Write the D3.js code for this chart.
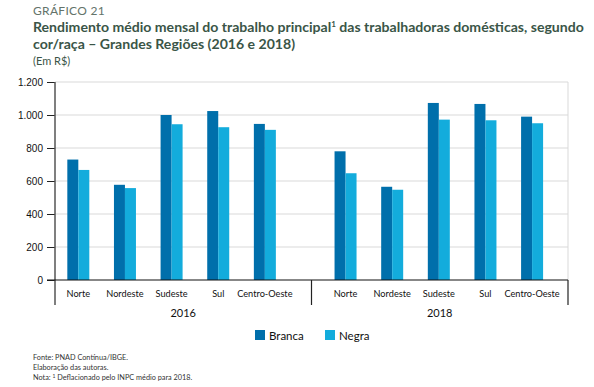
<!DOCTYPE html>
<html>
<head>
<meta charset="utf-8">
<script src="https://cdn.jsdelivr.net/npm/d3@7"></script>
<style>
  body { margin: 0; background: #fff; }
  svg { display: block; font-family: Lato, 'Open Sans', sans-serif; }
</style>
</head>
<body>
<svg></svg>
<script>
const years = ['2016', '2018']
const regions = ['Norte', 'Nordeste', 'Sudeste', 'Sul', 'Centro-Oeste']
const series = ['Branca', 'Negra']
const branca = {
  '2016': [730, 577, 1000, 1024, 946],
  '2018': [780, 565, 1073, 1067, 990]
}
const negra = {
  '2016': [667, 557, 944, 926, 910],
  '2018': [647, 547, 972, 968, 950]
}
const yTicks = [0, 200, 400, 600, 800, 1000, 1200]

const width = 594
const height = 387
const pd = { top: 82, left: 55, right: 26, bottom: 107 }
const colors = { Branca: '#006fab', Negra: '#13acdc' }
const align = { '2016': 0, '2018': 0.46 }

const svg = d3.select('svg')
  .attr('width', width)
  .attr('height', height)

const fmt = d3.formatLocale({ decimal: ',', thousands: '.', grouping: [3], currency: ['R$', ''] }).format(',d')

const x0 = d3.scaleBand()
  .domain(years)
  .range([pd.left, width - pd.right])

const x1 = {}
years.forEach(yr => {
  x1[yr] = d3.scaleBand()
    .domain(regions)
    .range([x0(yr), x0(yr) + x0.bandwidth()])
    .paddingOuter(0.25)
    .align(align[yr])
})

const x2 = d3.scaleBand()
  .domain(series)
  .range([0, x1['2016'].bandwidth()])
  .paddingOuter(1.12)

const y = d3.scaleLinear()
  .domain([0, 1200])
  .range([height - pd.bottom, pd.top])

const plotR = width - pd.right
const y0 = y(0)

// grid
svg.append('g')
  .selectAll('line')
  .data(yTicks.filter(d => d > 0))
  .enter()
  .append('line')
  .attr('x1', pd.left)
  .attr('x2', plotR)
  .attr('y1', d => y(d))
  .attr('y2', d => y(d))
  .attr('stroke', '#d9d9d9')
  .attr('stroke-width', 1)

svg.append('line')
  .attr('x1', plotR).attr('x2', plotR)
  .attr('y1', y(1200)).attr('y2', y0)
  .attr('stroke', '#d9d9d9')

// bars
const rows = []
years.forEach(yr => {
  regions.forEach((r, i) => {
    rows.push({ yr, r, s: 'Branca', v: branca[yr][i] })
    rows.push({ yr, r, s: 'Negra', v: negra[yr][i] })
  })
})

svg.append('g')
  .selectAll('rect')
  .data(rows)
  .enter()
  .append('rect')
  .attr('x', d => x1[d.yr](d.r) + x2(d.s))
  .attr('width', x2.bandwidth())
  .attr('y', d => y(d.v))
  .attr('height', d => y0 - y(d.v))
  .attr('fill', d => colors[d.s])

// y axis
const ya = svg.append('g')
  .attr('transform', `translate(${pd.left}, 0)`)
  .call(d3.axisLeft(y).tickValues(yTicks).tickFormat(fmt).tickSize(8).tickPadding(4))
ya.select('.domain').remove()
ya.selectAll('line').attr('stroke', '#222')
ya.selectAll('text')
  .attr('font-size', 10)
  .attr('fill', '#111')

svg.append('line')
  .attr('x1', pd.left).attr('x2', pd.left)
  .attr('y1', y(1200)).attr('y2', y0 + 25)
  .attr('stroke', '#555')
  .attr('stroke-width', 1.5)

svg.append('line')
  .attr('x1', pd.left - 8).attr('x2', plotR)
  .attr('y1', y0).attr('y2', y0)
  .attr('stroke', '#111')
  .attr('stroke-width', 1.2)

// group separators
svg.append('g')
  .selectAll('line')
  .data(years)
  .enter()
  .append('line')
  .attr('x1', d => x0(d) + x0.bandwidth())
  .attr('x2', d => x0(d) + x0.bandwidth())
  .attr('y1', y0)
  .attr('y2', y0 + 25)
  .attr('stroke', '#222')
  .attr('stroke-width', 1.2)

// category labels
years.forEach(yr => {
  svg.append('g')
    .selectAll('text')
    .data(regions)
    .enter()
    .append('text')
    .attr('x', d => x1[yr](d) + x1[yr].bandwidth() / 2)
    .attr('y', y0 + 17)
    .attr('text-anchor', 'middle')
    .attr('font-size', 9.2)
    .attr('fill', '#111')
    .text(d => d)
})

svg.append('g')
  .selectAll('text')
  .data(years)
  .enter()
  .append('text')
  .attr('x', d => x0(d) + x0.bandwidth() / 2)
  .attr('y', y0 + 37)
  .attr('text-anchor', 'middle')
  .attr('font-size', 11)
  .attr('fill', '#111')
  .text(d => d)

// legend
const lg = svg.append('g')
  .selectAll('g')
  .data(series)
  .enter()
  .append('g')
  .attr('transform', (d, i) => `translate(${255 + i * 70}, 330)`)
lg.append('rect')
  .attr('width', 10)
  .attr('height', 10)
  .attr('fill', d => colors[d])
lg.append('text')
  .attr('x', 14)
  .attr('y', 9.5)
  .attr('font-size', 11.5)
  .attr('fill', '#111')
  .text(d => d)

// titles
svg.append('text')
  .attr('x', 33).attr('y', 15)
  .attr('font-size', 12)
  .attr('fill', '#63736a')
  .attr('letter-spacing', 0.3)
  .text('GRÁFICO 21')

const t = svg.append('text')
  .attr('font-size', 14)
  .attr('font-weight', 'bold')
  .attr('fill', '#3a5547')
t.append('tspan').attr('x', 33).attr('y', 32).text('Rendimento médio mensal do trabalho principal')
t.append('tspan').attr('font-size', 8).attr('dy', -5).text('1')
t.append('tspan').attr('dy', 5).text(' das trabalhadoras domésticas, segundo')
t.append('tspan').attr('x', 33).attr('y', 49).text('cor/raça – Grandes Regiões (2016 e 2018)')
// fit first title line to the reference width
const tw = t.node().getBBox().width
t.attr('font-size', Math.min(15, 14 * 551 / tw))

svg.append('text')
  .attr('x', 33).attr('y', 65)
  .attr('font-size', 11)
  .attr('fill', '#3a5547')
  .text('(Em R$)')

// notes
const notes = svg.append('g')
  .attr('font-size', 7.3)
  .attr('fill', '#333')
notes.append('text').attr('x', 33).attr('y', 360).text('Fonte: PNAD Contínua/IBGE.')
notes.append('text').attr('x', 33).attr('y', 370).text('Elaboração das autoras.')
const n3 = notes.append('text').attr('x', 33).attr('y', 380)
n3.append('tspan').text('Nota: ')
n3.append('tspan').attr('font-size', 5).attr('dy', -2.5).text('1')
n3.append('tspan').attr('dy', 2.5).text(' Deflacionado pelo INPC médio para 2018.')
</script>
</body>
</html>
